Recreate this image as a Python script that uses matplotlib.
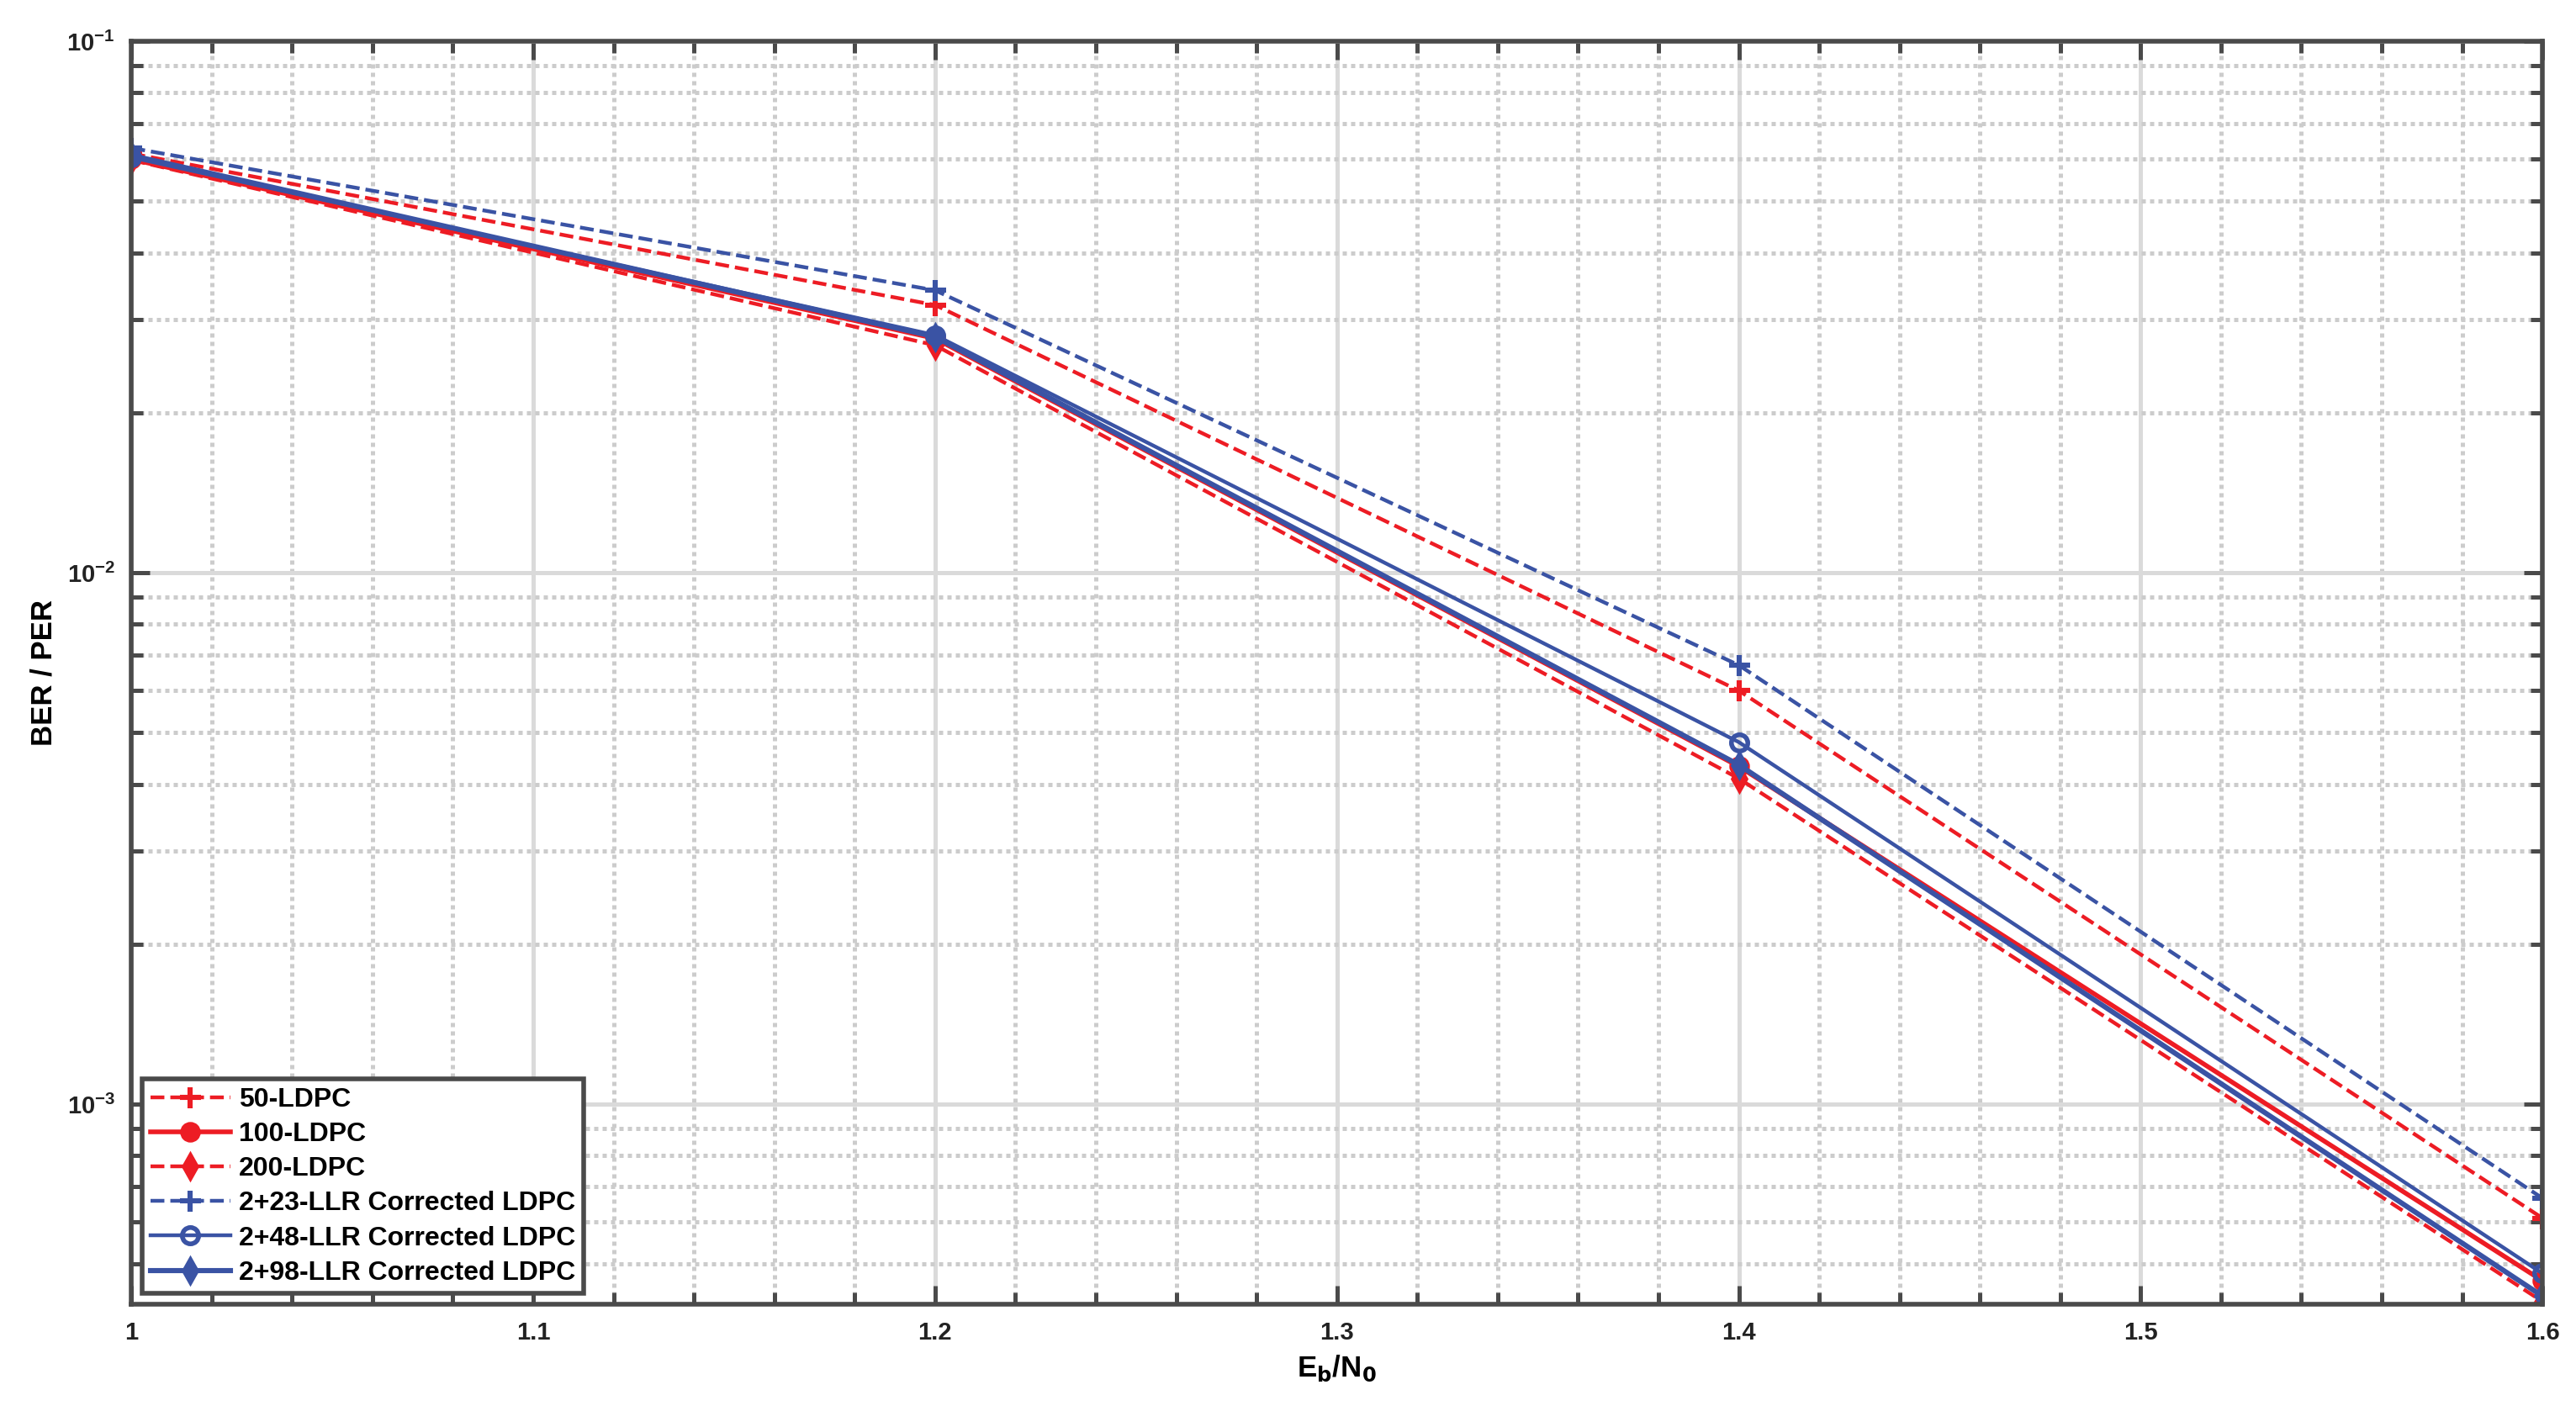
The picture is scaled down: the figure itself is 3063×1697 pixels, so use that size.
import numpy as np
import matplotlib.pyplot as plt
from matplotlib.ticker import MultipleLocator, LogLocator, NullFormatter

plt.rcParams['font.family'] = ['Liberation Sans', 'DejaVu Sans']
plt.rcParams['font.weight'] = 'bold'

ebn0 = [1.0, 1.2, 1.4, 1.6]
ldpc50 = [0.0615, 0.0319, 0.0060, 6.1e-4]
ldpc100 = [0.0600, 0.0276, 0.00432, 4.65e-4]
ldpc200 = [0.0598, 0.0268, 0.0041, 4.25e-4]
llr23 = [0.0630, 0.0340, 0.0067, 6.65e-4]
llr48 = [0.0605, 0.0280, 0.0048, 4.8e-4]
llr98 = [0.0610, 0.0278, 0.00435, 4.35e-4]

red = '#ED1C24'
blue = '#3A53A4'
edge = '#4a4a4a'

fig = plt.figure(figsize=(15.315, 8.485), dpi=200)
ax = fig.add_axes([0.051, 0.086, 0.936, 0.885])

ax.semilogy(ebn0, ldpc50, '--+', color=red, lw=1.6, ms=9, mew=2.2, label='50-LDPC')
ax.semilogy(ebn0, ldpc100, '-o', color=red, lw=2.0, ms=7, mew=1.8, label='100-LDPC')
ax.semilogy(ebn0, ldpc200, '--d', color=red, lw=1.6, ms=8, label='200-LDPC')
ax.semilogy(ebn0, llr23, '--+', color=blue, lw=1.6, ms=9, mew=2.2, label='2+23-LLR Corrected LDPC')
ax.semilogy(ebn0, llr48, '-o', color=blue, lw=1.6, ms=7, mew=2, mfc='none', label='2+48-LLR Corrected LDPC')
ax.semilogy(ebn0, llr98, '-d', color=blue, lw=2.2, ms=8, label='2+98-LLR Corrected LDPC')

ax.set_xlim(1, 1.6)
ax.set_ylim(4.2e-4, 0.1)
ax.xaxis.set_minor_locator(MultipleLocator(0.02))
ax.set_xticks([1, 1.1, 1.2, 1.3, 1.4, 1.5, 1.6])
ax.set_xticklabels(['1', '1.1', '1.2', '1.3', '1.4', '1.5', '1.6'])
ax.yaxis.set_minor_locator(LogLocator(base=10, subs=np.arange(2, 10)))
ax.yaxis.set_minor_formatter(NullFormatter())

ax.grid(which='major', color='#dadada', lw=1.8, ls='-')
ax.grid(which='minor', color='#cccccc', lw=1.8, ls=(0, (1, 1)))
ax.set_axisbelow(True)
for s in ax.spines.values():
    s.set_color(edge)
    s.set_linewidth(2)
ax.tick_params(which='both', direction='in', top=True, right=True, color=edge,
               labelsize=10.5, labelcolor='#222222', width=1.8)
ax.tick_params(which='major', length=8, pad=7)
ax.tick_params(which='minor', length=5)

ax.set_xlabel('E$_\\mathbf{b}$/N$_\\mathbf{0}$', fontsize=12.5, fontweight='bold')
ax.set_ylabel('BER / PER', fontsize=12.5, fontweight='bold')

leg = ax.legend(loc='lower left', fontsize=11.5, fancybox=False, framealpha=1,
                handlelength=3.0, borderpad=0.3, labelspacing=0.35,
                handletextpad=0.3, borderaxespad=0.4)
leg.get_frame().set_edgecolor(edge)
leg.get_frame().set_linewidth(2)

fig.savefig('out.png', dpi=200)
